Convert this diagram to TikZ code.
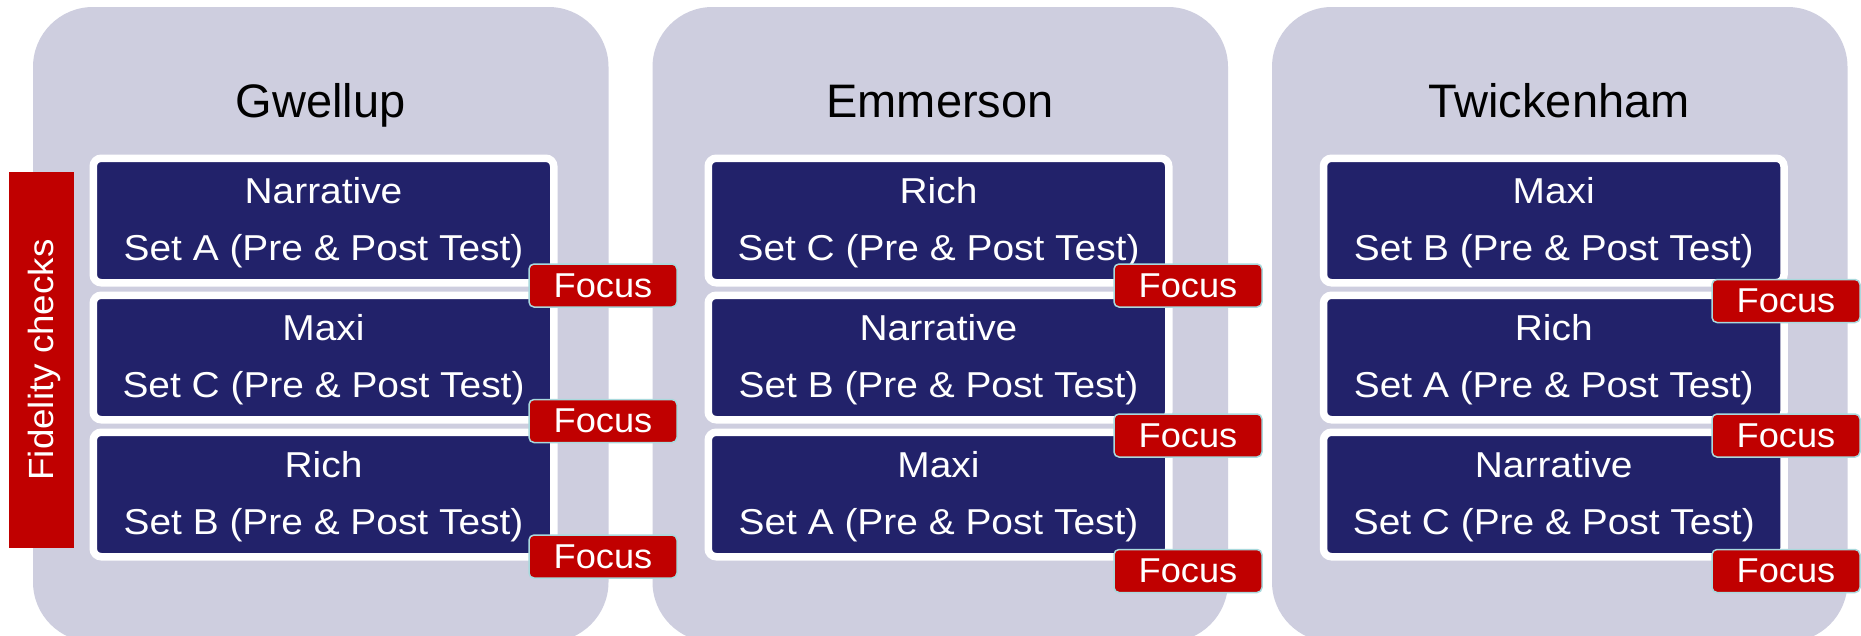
\documentclass[tikz,border=0pt]{standalone}
\usepackage{fontspec}
\setmainfont{Liberation Sans}
\newfontfamily\itemfont[FakeStretch=1.08]{Liberation Sans}
\newfontfamily\focusfont[FakeStretch=1.05]{Liberation Sans}
\usetikzlibrary{calc}
\definecolor{lav}{HTML}{CECEDF}
\definecolor{navy}{HTML}{22226A}
\definecolor{redbox}{HTML}{C00000}
\definecolor{cyanedge}{HTML}{A9D9DD}
\begin{document}
\begin{tikzpicture}[x=1pt,y=-1pt,
  panel/.style={fill=lav, rounded corners=60pt, minimum width=575.5pt, minimum height=635pt, inner sep=0pt},
  title/.style={font=\fontsize{47}{50}\selectfont, text=black, anchor=base, inner sep=0pt},
  cell/.style={fill=navy, draw=white, line width=7.5pt, rounded corners=8pt, minimum width=460.5pt, minimum height=124.5pt, inner sep=0pt, outer sep=0pt},
  itemtxt/.style={font=\itemfont\fontsize{36}{40}\selectfont, text=white, anchor=base, inner sep=0pt},
  focus/.style={fill=redbox, draw=cyanedge, line width=1.5pt, rounded corners=5pt, minimum width=148pt, minimum height=43pt, inner sep=0pt, text=white, font=\focusfont\fontsize{34.5}{38}\selectfont},
  fidbar/.style={fill=redbox, minimum width=65pt, minimum height=376pt, inner sep=0pt},
  fidtxt/.style={font=\focusfont\fontsize{35}{38}\selectfont, text=white, rotate=90, anchor=base, inner sep=0pt}
]
\useasboundingbox (0,0) rectangle (1861,635);
\fill[white] (0,0) rectangle (1861,635);
\clip (0,0) rectangle (1861,635);

% panels
\node[panel] (p1) at (320.75,324.5) {};
\node[panel] (p2) at (940.25,324.5) {};
\node[panel] (p3) at (1559.75,324.5) {};

% titles
\node[title] (t1) at (320.5,117.5) {Gwellup};
\node[title] (t2) at (940,117.5) {Emmerson};
\node[title] (t3) at (1559,117.5) {Twickenham};

% fidelity bar
\node[fidbar] (fb) at (41.5,360) {};
\node[fidtxt] (ft) at (53.3,360) {Fidelity checks};

% cells panel 1
\node[cell] (c11) at (323.5,220.5) {};
\node[cell] (c12) at (323.5,357.5) {};
\node[cell] (c13) at (323.5,494.5) {};
% cells panel 2
\node[cell] (c21) at (938.5,220.5) {};
\node[cell] (c22) at (938.5,357.5) {};
\node[cell] (c23) at (938.5,494.5) {};
% cells panel 3
\node[cell] (c31) at (1553.75,220.5) {};
\node[cell] (c32) at (1553.75,357.5) {};
\node[cell] (c33) at (1553.75,494.5) {};

% texts
\node[itemtxt] (c11a) at ($(c11.center)+(0,-17.5)$) {Narrative};
\node[itemtxt] (c11b) at ($(c11.center)+(0,39.5)$) {Set A (Pre \& Post Test)};
\node[itemtxt] (c12a) at ($(c12.center)+(0,-17.5)$) {Maxi};
\node[itemtxt] (c12b) at ($(c12.center)+(0,39.5)$) {Set C (Pre \& Post Test)};
\node[itemtxt] (c13a) at ($(c13.center)+(0,-17.5)$) {Rich};
\node[itemtxt] (c13b) at ($(c13.center)+(0,39.5)$) {Set B (Pre \& Post Test)};

\node[itemtxt] (c21a) at ($(c21.center)+(0,-17.5)$) {Rich};
\node[itemtxt] (c21b) at ($(c21.center)+(0,39.5)$) {Set C (Pre \& Post Test)};
\node[itemtxt] (c22a) at ($(c22.center)+(0,-17.5)$) {Narrative};
\node[itemtxt] (c22b) at ($(c22.center)+(0,39.5)$) {Set B (Pre \& Post Test)};
\node[itemtxt] (c23a) at ($(c23.center)+(0,-17.5)$) {Maxi};
\node[itemtxt] (c23b) at ($(c23.center)+(0,39.5)$) {Set A (Pre \& Post Test)};

\node[itemtxt] (c31a) at ($(c31.center)+(0,-17.5)$) {Maxi};
\node[itemtxt] (c31b) at ($(c31.center)+(0,39.5)$) {Set B (Pre \& Post Test)};
\node[itemtxt] (c32a) at ($(c32.center)+(0,-17.5)$) {Rich};
\node[itemtxt] (c32b) at ($(c32.center)+(0,39.5)$) {Set A (Pre \& Post Test)};
\node[itemtxt] (c33a) at ($(c33.center)+(0,-17.5)$) {Narrative};
\node[itemtxt] (c33b) at ($(c33.center)+(0,39.5)$) {Set C (Pre \& Post Test)};

% focus boxes
\node[focus] (f11) at (603,285.5) {Focus};
\node[focus] (f12) at (603,421) {Focus};
\node[focus] (f13) at (603,556.5) {Focus};
\node[focus] (f21) at (1188,285.5) {Focus};
\node[focus] (f22) at (1188,435.5) {Focus};
\node[focus] (f23) at (1188,571) {Focus};
\node[focus] (f31) at (1786,301) {Focus};
\node[focus] (f32) at (1786,435.5) {Focus};
\node[focus] (f33) at (1786,571) {Focus};
\end{tikzpicture}
\end{document}
